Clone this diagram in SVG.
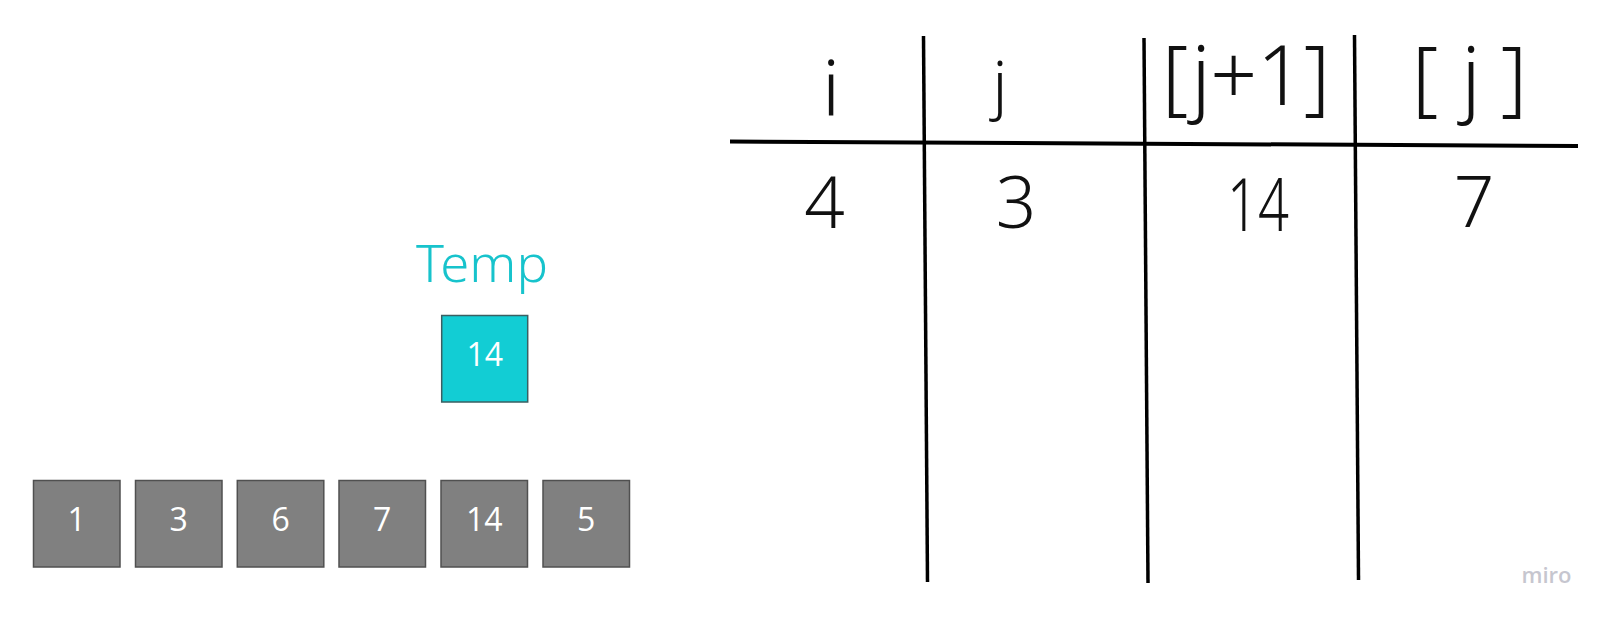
<svg xmlns="http://www.w3.org/2000/svg" width="1609" height="621" viewBox="0 0 1609 621">
<style>
.cell{fill:#808080;stroke:#505050;stroke-width:1.5}
.temp{fill:#12CDD4;stroke:#3a5f62;stroke-width:1.5}
.num{font-family:"Open Sans","Liberation Sans",sans-serif;font-size:32px;fill:#ffffff;text-anchor:middle}
.hand{font-family:"Noto Sans","Liberation Sans",sans-serif;font-weight:300;fill:#111111;text-anchor:middle}
.rule{stroke:#000000;fill:none;stroke-linecap:butt}
.miro{font-family:"Open Sans","Liberation Sans",sans-serif;font-weight:600;font-size:22px;fill:#c6c6cf;text-anchor:middle}
</style>
<rect width="1609" height="621" fill="#ffffff"/>

<g id="array">
  <g id="cell-0"><rect class="cell" x="33.5" y="480.5" width="86.5" height="86.5"/><text class="num" x="76.75" y="531">1</text></g>
  <g id="cell-1"><rect class="cell" x="135.5" y="480.5" width="86.5" height="86.5"/><text class="num" x="178.75" y="531">3</text></g>
  <g id="cell-2"><rect class="cell" x="237.3" y="480.5" width="86.5" height="86.5"/><text class="num" x="280.55" y="531">6</text></g>
  <g id="cell-3"><rect class="cell" x="339" y="480.5" width="86.5" height="86.5"/><text class="num" x="382.25" y="531">7</text></g>
  <g id="cell-4"><rect class="cell" x="441" y="480.5" width="86.5" height="86.5"/><text class="num" x="484.25" y="531">14</text></g>
  <g id="cell-5"><rect class="cell" x="543" y="480.5" width="86.5" height="86.5"/><text class="num" x="586.25" y="531">5</text></g>
</g>

<g id="temp">
  <text x="482" y="282" font-family="Noto Sans, Liberation Sans, sans-serif" font-weight="300" font-size="52" fill="#17c3cc" text-anchor="middle" textLength="132" lengthAdjust="spacingAndGlyphs">Temp</text>
  <rect class="temp" x="441.7" y="315.5" width="86" height="86.5"/>
  <text class="num" x="484.7" y="366">14</text>
</g>

<g id="table">
  <line class="rule" x1="730" y1="141.5" x2="1578" y2="146" stroke-width="4"/>
  <line class="rule" x1="923.5" y1="36" x2="927.5" y2="582" stroke-width="3.5"/>
  <line class="rule" x1="1144" y1="38" x2="1148" y2="583" stroke-width="3.5"/>
  <line class="rule" x1="1354.5" y1="35" x2="1358.5" y2="580" stroke-width="3.5"/>
</g>

<g id="headers">
  <text class="hand" x="831" y="116" font-size="78">i</text>
  <text class="hand" x="1000" y="107" font-size="64">j</text>
  <text class="hand" x="1246" y="105" font-size="82" textLength="168" lengthAdjust="spacing">[j+1]</text>
  <text class="hand" x="1469.5" y="106" font-size="82" textLength="115" lengthAdjust="spacing">[j]</text>
</g>

<g id="values">
  <text class="hand" x="824.5" y="228" font-size="71">4</text>
  <text class="hand" x="1016" y="228" font-size="71">3</text>
  <text class="hand" x="1258" y="231" font-size="74" textLength="62" lengthAdjust="spacingAndGlyphs">14</text>
  <text class="hand" x="1474" y="227" font-size="71">7</text>
</g>

<text class="miro" x="1546.5" y="583">miro</text>
</svg>
